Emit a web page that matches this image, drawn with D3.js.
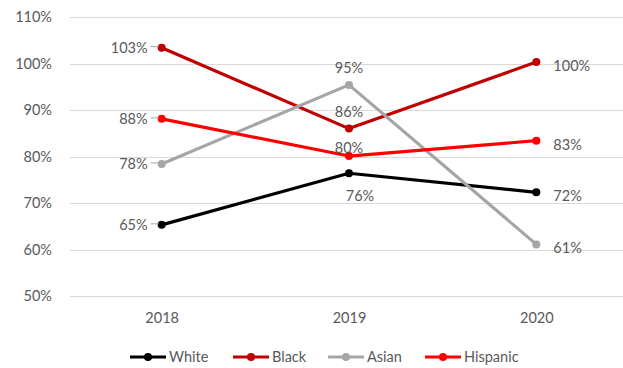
<!DOCTYPE html>
<html>
<head>
<meta charset="utf-8">
<script src="https://cdn.jsdelivr.net/npm/d3@7"></script>
<style>
  html, body { margin: 0; padding: 0; background: #fff; }
  svg { display: block; }
  text { font-family: Lato, "Open Sans", sans-serif; fill: #595959; }
</style>
</head>
<body>
<svg id="chart" width="623" height="368"></svg>
<script>
// Categories and series
const years = ["2018", "2019", "2020"];
const white = [0.653, 0.764, 0.723];
const black = [1.034, 0.860, 1.003];
const asian = [0.784, 0.954, 0.611];
const hispanic = [0.881, 0.801, 0.834];
const seriesNames = ["White", "Black", "Asian", "Hispanic"];
const seriesColors = ["#000000", "#C00000", "#A5A5A5", "#FF0000"];
const yTicks = [0.5, 0.6, 0.7, 0.8, 0.9, 1.0, 1.1];
// Where each series puts its data label at each year
const labelSides = [
  ["left", "below", "right"],
  ["left", "above", "right"],
  ["left", "above", "right"],
  ["left", "tight", "right"]
];

const seriesValues = [white, black, asian, hispanic];
const series = seriesNames.map((name, i) => ({
  name, color: seriesColors[i],
  points: years.map((y, j) => ({ year: y, value: seriesValues[i][j], side: labelSides[i][j] }))
}));

const svg = d3.select("#chart");
const plotLeft = 68, plotRight = 630, plotTop = 17, plotBottom = 296;

const x = d3.scalePoint().domain(years).range([plotLeft, plotRight]).padding(0.5);
const y = d3.scaleLinear().domain([0.5, 1.1]).range([plotBottom, plotTop]);
const pct = d3.format(".0%");

// Gridlines
svg.append("g")
  .selectAll("line")
  .data(yTicks)
  .join("line")
  .attr("x1", 70).attr("x2", 623)
  .attr("y1", d => Math.round(y(d)) + 0.5).attr("y2", d => Math.round(y(d)) + 0.5)
  .attr("stroke", "#D9D9D9").attr("stroke-width", 1);

// Y axis labels
const yAxis = d3.axisLeft(y).tickValues(yTicks).tickFormat(pct).tickSize(0).tickPadding(0);
svg.append("g")
  .attr("transform", "translate(52,0)")
  .call(yAxis)
  .call(g => g.select(".domain").remove())
  .call(g => g.selectAll("text")
    .attr("font-family", "Lato, 'Open Sans', sans-serif")
    .attr("font-size", 14.5).attr("fill", "#595959"));

// X axis labels
const xAxis = d3.axisBottom(x).tickSize(0).tickPadding(0);
svg.append("g")
  .attr("transform", "translate(0,313)")
  .call(xAxis)
  .call(g => g.select(".domain").remove())
  .call(g => g.selectAll("text")
    .attr("font-family", "Lato, 'Open Sans', sans-serif")
    .attr("font-size", 14.5).attr("fill", "#595959"));

const line = d3.line().x(d => x(d.year)).y(d => y(d.value));

const sg = svg.append("g").selectAll("g").data(series).join("g");

sg.append("path")
  .attr("d", d => line(d.points))
  .attr("fill", "none")
  .attr("stroke", d => d.color)
  .attr("stroke-width", 3.2)
  .attr("stroke-linejoin", "round");

sg.selectAll("circle")
  .data(d => d.points.map(p => ({ ...p, color: d.color })))
  .join("circle")
  .attr("cx", d => x(d.year)).attr("cy", d => y(d.value))
  .attr("r", 4).attr("fill", d => d.color);

// Leader lines for labels on the left
sg.selectAll("line.leader")
  .data(d => d.points.filter(p => p.side === "left"))
  .join("line")
  .attr("class", "leader")
  .attr("x1", d => x(d.year) - 11).attr("x2", d => x(d.year) - 3)
  .attr("y1", d => y(d.value) - 1).attr("y2", d => y(d.value) - 1)
  .attr("stroke", "#A6A6A6").attr("stroke-width", 1);

// Data labels
const labelDy = { left: 5, right: 9, above: -12, tight: -3, below: 28 };
sg.selectAll("text.value")
  .data(d => d.points)
  .join("text")
  .attr("class", "value")
  .attr("font-size", 14.5)
  .attr("x", d => d.side === "left" ? x(d.year) - 14 : d.side === "right" ? x(d.year) + 17 : x(d.year))
  .attr("y", d => y(d.value) + labelDy[d.side])
  .attr("text-anchor", d => d.side === "left" ? "end" : d.side === "right" ? "start" : "middle")
  .attr("dx", d => d.side === "below" ? 11 : 0)
  .text(d => pct(d.value));

// Legend
const legendX = [130, 233, 328, 425];
const lg = svg.append("g").selectAll("g").data(series).join("g")
  .attr("transform", (d, i) => `translate(${legendX[i]},357)`);
lg.append("line").attr("x1", 0).attr("x2", 36).attr("y1", 0).attr("y2", 0)
  .attr("stroke", d => d.color).attr("stroke-width", 3.2);
lg.append("circle").attr("cx", 18).attr("cy", 0).attr("r", 4).attr("fill", d => d.color);
lg.append("text").attr("x", 39).attr("y", 5).attr("font-size", 14.5).text(d => d.name);
</script>
</body>
</html>
